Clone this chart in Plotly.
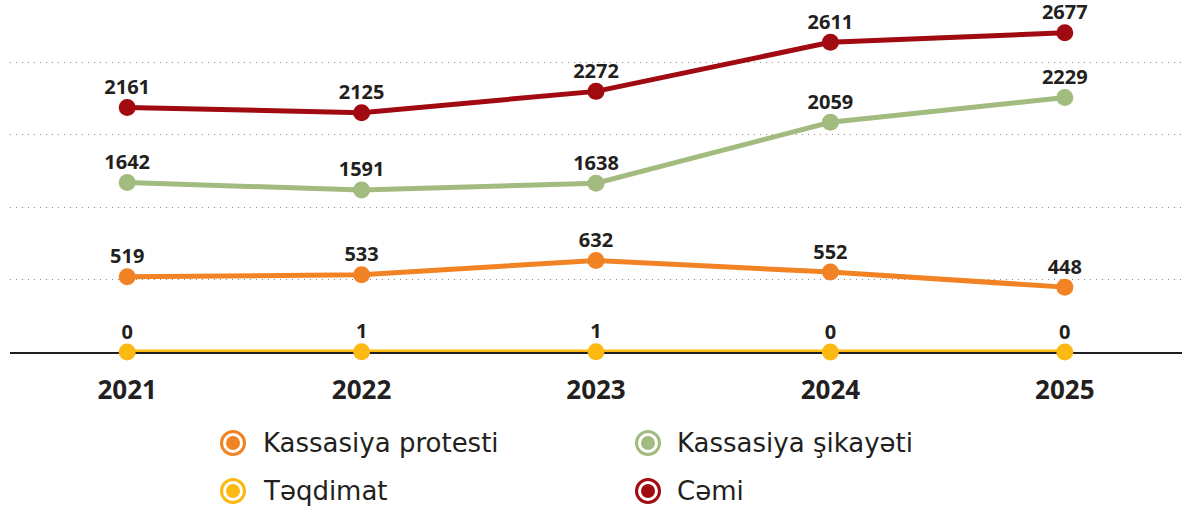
import plotly.graph_objects as go

years = [2021, 2022, 2023, 2024, 2025]
protest = [519, 533, 632, 552, 448]          # Kassasiya protesti
teqdimat = [0, 1, 1, 0, 0]                   # Təqdimat
sikayet = [1642, 1591, 1638, 2059, 2229]     # Kassasiya şikayəti
cemi = [2161, 2125, 2272, 2611, 2677]        # Cəmi

names = ["Kassasiya protesti", "Kassasiya şikayəti", "Təqdimat", "Cəmi"]
colors = {"protest": "#F28325", "sikayet": "#A2BB7E", "teqdimat": "#FDB913", "cemi": "#A00A10"}

TXT = "#231F20"
FONT = "Open Sans"
Y_TOP = 2431
OFFSET = 472  # upper series are drawn on a shifted secondary axis

fig = go.Figure()

def add(y, color, axis):
    fig.add_trace(go.Scatter(
        x=years, y=y, yaxis=axis, mode="lines+markers",
        line=dict(color=color, width=5),
        marker=dict(color=color, size=17),
        cliponaxis=False, showlegend=False, hoverinfo="skip"))
    fig.add_trace(go.Scatter(
        x=years, y=y, yaxis=axis, mode="markers+text",
        marker=dict(color="rgba(0,0,0,0)", size=12),
        text=[str(v) for v in y], textposition="top center",
        textfont=dict(family=FONT, size=20, color=TXT, weight="bold"),
        cliponaxis=False, showlegend=False, hoverinfo="skip"))

add(teqdimat, colors["teqdimat"], "y")
add(protest, colors["protest"], "y")
add(sikayet, colors["sikayet"], "y2")
add(cemi, colors["cemi"], "y2")

fig.update_layout(
    width=1182, height=512,
    margin=dict(l=10, r=0, t=0, b=160),
    paper_bgcolor="white", plot_bgcolor="white",
    xaxis=dict(range=[2020.5, 2025.5], tickvals=years, ticktext=[str(y) for y in years],
               showgrid=False, zeroline=False, showline=True, linecolor=TXT, linewidth=2,
               layer="below traces", ticks="", ticklabelstandoff=14,
               tickfont=dict(family=FONT, size=26, color=TXT, weight="bold")),
    yaxis=dict(range=[0, Y_TOP], tickvals=[500, 1000, 1500, 2000], showticklabels=False,
               showgrid=True, gridcolor="#8a8a8a", gridwidth=1, griddash="1px,5px",
               zeroline=False, showline=False, layer="below traces"),
    yaxis2=dict(range=[OFFSET, Y_TOP + OFFSET], overlaying="y", showgrid=False,
                showticklabels=False, zeroline=False, showline=False),
)

# manual legend
legend_items = [
    (names[0], colors["protest"], 233, 443, 261),
    (names[1], colors["sikayet"], 648, 443, 675),
    (names[2], colors["teqdimat"], 233, 491, 261),
    (names[3], colors["cemi"], 648, 491, 675),
]
plot_h = 352.0
for label, color, cx, cy, tx in legend_items:
    ypaper = (plot_h - cy) / plot_h
    xpaper = (cx - 10) / 1172.0
    fig.add_shape(type="circle", xref="paper", yref="paper", xsizemode="pixel", ysizemode="pixel",
                  xanchor=xpaper, yanchor=ypaper, x0=-11.5, x1=11.5, y0=-11.5, y1=11.5,
                  line=dict(color=color, width=3), fillcolor="white")
    fig.add_shape(type="circle", xref="paper", yref="paper", xsizemode="pixel", ysizemode="pixel",
                  xanchor=xpaper, yanchor=ypaper, x0=-7, x1=7, y0=-7, y1=7,
                  line=dict(width=0), fillcolor=color)
    fig.add_annotation(x=(tx - 10) / 1172.0, y=ypaper, xref="paper", yref="paper",
                       xanchor="left", yanchor="middle", showarrow=False, text=label,
                       font=dict(family="DejaVu Sans", size=26, color=TXT))

fig.write_html("out.html", config={"displayModeBar": False},
               post_script="document.body.style.margin='0';")
